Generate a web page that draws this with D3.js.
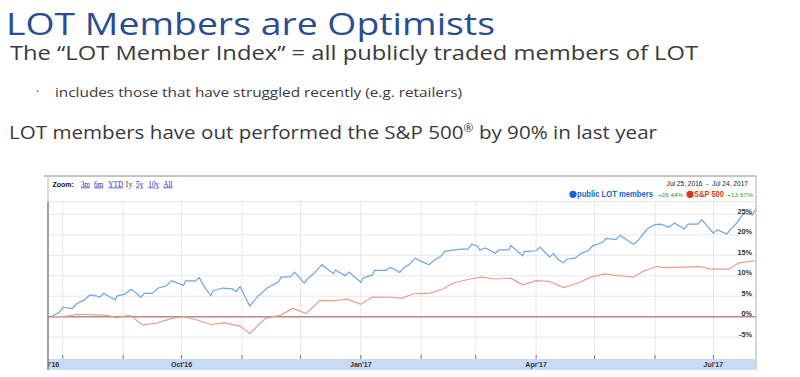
<!DOCTYPE html>
<html><head><meta charset="utf-8">
<script src="https://cdn.jsdelivr.net/npm/d3@7"></script>
<style>body{margin:0;background:#fff}svg{display:block}</style>
</head><body>
<svg id="c" width="800" height="377"></svg>
<script>
// ---------- data ----------
const titleText = "LOT Members are Optimists";
const line1Text = "The \u201cLOT Member Index\u201d = all publicly traded members of LOT";
const bulletText = "includes those that have struggled recently (e.g. retailers)";
const line3Main = "LOT members have out performed the S&P 500";
const line3Rest = " by 90% in last year";
const zoomLinks = ["3m","6m","YTD","1y","5y","10y","All"];
const rangeText = "Jul 25, 2016  -  Jul 24, 2017";
const seriesNames = ["public LOT members","S&P 500"];
const seriesChange = ["+26.44%","+13.67%"];
const yTicks = [-5,0,5,10,15,20,25];
const xTickDates = ["2016-07-01","2016-10-01","2017-01-01","2017-04-01","2017-07-01"];
const xTickLabels = ["Jul'16","Oct'16","Jan'17","Apr'17","Jul'17"];
const domainStart = "2016-07-25", domainEnd = "2017-07-24";

const lotDates = ["2016-07-26","2016-07-30","2016-08-01","2016-08-06","2016-08-08","2016-08-12","2016-08-15","2016-08-18","2016-08-20","2016-08-22","2016-08-24","2016-08-28","2016-08-29","2016-09-02","2016-09-05","2016-09-08","2016-09-10","2016-09-12","2016-09-16","2016-09-19","2016-09-23","2016-09-26","2016-09-29","2016-10-02","2016-10-03","2016-10-06","2016-10-08","2016-10-10","2016-10-13","2016-10-16","2016-10-17","2016-10-22","2016-10-27","2016-10-29","2016-10-31","2016-11-05","2016-11-09","2016-11-14","2016-11-20","2016-11-21","2016-11-26","2016-11-28","2016-12-03","2016-12-05","2016-12-08","2016-12-12","2016-12-18","2016-12-19","2016-12-24","2016-12-26","2017-01-01","2017-01-02","2017-01-07","2017-01-08","2017-01-14","2017-01-16","2017-01-19","2017-01-21","2017-01-23","2017-01-26","2017-01-29","2017-02-01","2017-02-05","2017-02-08","2017-02-11","2017-02-13","2017-02-16","2017-02-22","2017-02-25","2017-02-27","2017-03-02","2017-03-03","2017-03-06","2017-03-11","2017-03-13","2017-03-18","2017-03-19","2017-03-25","2017-03-26","2017-04-01","2017-04-03","2017-04-06","2017-04-08","2017-04-10","2017-04-12","2017-04-15","2017-04-17","2017-04-21","2017-04-24","2017-04-28","2017-04-30","2017-05-05","2017-05-07","2017-05-12","2017-05-14","2017-05-18","2017-05-21","2017-05-23","2017-05-28","2017-06-01","2017-06-04","2017-06-08","2017-06-11","2017-06-16","2017-06-18","2017-06-23","2017-06-25","2017-07-01","2017-07-03","2017-07-08","2017-07-10","2017-07-13","2017-07-16","2017-07-17","2017-07-21","2017-07-23"];
const lotValues = [0,1.0,2.3,2.0,3.1,4.1,5.3,5.1,4.75,5.7,5.1,4.1,5.1,5.5,6.7,5.7,4.7,5.7,5.7,7.0,7.5,8.8,8.2,7.6,8.75,8.75,8.7,9.6,7.1,5.1,6.3,7.0,6.8,6.1,7.35,2.6,4.9,7.0,8.6,9.65,9.8,10.9,8.2,9.4,10.6,12.7,10.5,11.4,10.0,10.9,8.4,9.4,10.2,11.3,11.3,12.0,11.4,10.8,11.9,12.8,14.3,13.5,12.7,13.9,14.7,15.9,16.2,16.5,16.5,17.7,17.2,16.3,16.8,15.5,16.3,16.3,17.4,14.9,15.9,16.1,17.0,15.5,14.6,15.4,14.1,13.2,14.1,14.3,15.4,16.2,17.3,18.1,19.1,18.8,19.9,18.6,17.7,18.4,21.4,22.5,22.6,21.8,22.9,21.4,22.6,22.6,23.7,20.4,21.2,20.2,21.4,22.9,24.9,25.2,24.9,26.44];

const spDates = ["2016-07-26","2016-08-01","2016-08-06","2016-08-08","2016-08-23","2016-08-29","2016-09-02","2016-09-05","2016-09-11","2016-09-18","2016-09-26","2016-10-02","2016-10-09","2016-10-16","2016-10-23","2016-10-31","2016-11-05","2016-11-13","2016-11-21","2016-11-27","2016-12-04","2016-12-11","2016-12-19","2016-12-25","2017-01-01","2017-01-07","2017-01-16","2017-01-22","2017-01-28","2017-02-05","2017-02-12","2017-02-18","2017-02-26","2017-03-04","2017-03-11","2017-03-19","2017-03-25","2017-04-01","2017-04-08","2017-04-15","2017-04-23","2017-04-29","2017-05-06","2017-05-14","2017-05-21","2017-05-26","2017-06-02","2017-06-06","2017-06-16","2017-06-24","2017-06-30","2017-07-09","2017-07-14","2017-07-23"];
const spValues = [0,0,0.3,0.6,0.4,-0.3,0.2,0.2,-2.0,-1.6,-0.4,0,-0.8,-1.9,-1.5,-2.3,-4.1,-0.4,0.4,2.0,0.75,4.0,3.9,4.3,3.0,4.8,4.75,4.5,5.6,5.7,6.7,8.3,9.2,9.65,9.2,9.4,7.8,8.8,8.6,7.1,8.3,9.65,10.45,10.0,9.65,11.1,12.25,12.0,12.1,12.25,11.6,11.6,13.15,13.67];

// ---------- layout ----------
const svg = d3.select("#c");
const parse = d3.utcParse("%Y-%m-%d");
const fit = (sel, w) => sel.attr("textLength", w).attr("lengthAdjust", "spacingAndGlyphs");

// slide text
fit(svg.append("text").attr("x", 6).attr("y", 34.5).attr("font-family", "Open Sans")
  .attr("font-size", 31).attr("fill", "#2b4d8f").text(titleText), 489);
fit(svg.append("text").attr("x", 10).attr("y", 59.5).attr("font-family", "Open Sans")
  .attr("font-size", 20).attr("fill", "#3a3a3a").text(line1Text), 688);
svg.append("text").attr("x", 36).attr("y", 96).attr("font-family", "Open Sans")
  .attr("font-size", 12).attr("fill", "#444").text("\u00b7");
fit(svg.append("text").attr("x", 55).attr("y", 96.7).attr("font-family", "Open Sans")
  .attr("font-size", 13.5).attr("fill", "#3a3a3a").text(bulletText), 407);
const l3 = svg.append("text").attr("x", 9).attr("y", 138.5).attr("font-family", "Open Sans")
  .attr("font-size", 19).attr("fill", "#3a3a3a");
l3.append("tspan").text(line3Main);
l3.append("tspan").attr("font-size", 11).attr("dy", -7).text("\u00ae");
l3.append("tspan").attr("dy", 7).text(line3Rest);
fit(l3, 648);

// chart frame
const L = 48, R = 755.5, T = 176, PT = 201.7, PB = 359, B = 370;
svg.append("line").attr("x1", 44).attr("x2", R + 1).attr("y1", T).attr("y2", T)
  .attr("stroke", "#c4c4c4").attr("stroke-width", 2);
svg.append("line").attr("x1", R + 0.5).attr("x2", R + 0.5).attr("y1", T).attr("y2", B)
  .attr("stroke", "#c8c8c8").attr("stroke-width", 1.5);

const x = d3.scaleUtc().domain([parse(domainStart), parse(domainEnd)]).range([49.1, 758.2]);
const y = d3.scaleLinear().domain([-10.33, 28.08]).range([PB, PT]);

svg.append("defs").append("clipPath").attr("id", "plot")
  .append("rect").attr("x", L).attr("y", PT - 2).attr("width", R - L).attr("height", B - PT + 2);

const g = svg.append("g").attr("clip-path", "url(#plot)");

// grid
g.append("line").attr("x1", L).attr("x2", R).attr("y1", PT).attr("y2", PT).attr("stroke", "#e2e2ea");
g.selectAll(".hg").data(yTicks).join("line").attr("x1", L).attr("x2", R)
  .attr("y1", d => y(d)).attr("y2", d => y(d)).attr("stroke", "#e6e6ee");
const months = d3.utcMonth.range(parse("2016-08-01"), parse("2017-07-02"));
g.selectAll(".vg").data(months).join("line").attr("x1", d => x(d)).attr("x2", d => x(d))
  .attr("y1", PT).attr("y2", PB).attr("stroke", "#e6e6ee");

// zero line
g.append("line").attr("x1", L).attr("x2", R).attr("y1", y(0)).attr("y2", y(0))
  .attr("stroke", "#b8898b").attr("stroke-width", 1.6);

// series
const line = d3.line().x(d => x(d[0])).y(d => y(d[1]));
g.append("path").datum(spDates.map((d, i) => [parse(d), spValues[i]]))
  .attr("d", line).attr("fill", "none").attr("stroke", "#e89d8a").attr("stroke-width", 1.2);
g.append("path").datum(lotDates.map((d, i) => [parse(d), lotValues[i]]))
  .attr("d", line).attr("fill", "none").attr("stroke", "#72a3e2").attr("stroke-width", 1.2);

// x-axis band
g.append("rect").attr("x", L).attr("y", PB).attr("width", R - L).attr("height", B - PB).attr("fill", "#c7dbf4");
g.selectAll(".tk").data(months).join("line").attr("x1", d => x(d)).attr("x2", d => x(d))
  .attr("y1", PB - 4).attr("y2", PB).attr("stroke", "#777").attr("stroke-width", 1);
g.selectAll(".xl").data(xTickDates).join("text")
  .attr("x", d => Math.max(x(parse(d)), L + 1.5)).attr("y", 367.3)
  .attr("text-anchor", "middle").attr("font-family", "Liberation Sans").attr("font-weight", "bold")
  .attr("font-size", 7).attr("fill", "#333").text((d, i) => xTickLabels[i]);

// y labels
svg.selectAll(".yl").data(yTicks).join("text").attr("x", 752).attr("y", d => y(d) - 0.5)
  .attr("text-anchor", "end").attr("font-family", "Liberation Sans").attr("font-weight", "bold")
  .attr("font-size", 7.3).attr("fill", "#333").text(d => d + "%");

// left border
svg.append("line").attr("x1", L).attr("x2", L).attr("y1", T).attr("y2", PT)
  .attr("stroke", "#d0d0d0").attr("stroke-width", 1.5);
svg.append("line").attr("x1", L).attr("x2", L).attr("y1", PT).attr("y2", B)
  .attr("stroke", "#808080").attr("stroke-width", 1.5);

// zoom links
svg.append("text").attr("x", 52.5).attr("y", 186.5).attr("font-family", "Liberation Sans")
  .attr("font-weight", "bold").attr("font-size", 7).attr("fill", "#111").text("Zoom:");
const zx = [80.7, 94, 108.3, 125, 136, 148.3, 163.3];
svg.selectAll(".zl").data(zoomLinks).join("text").attr("x", (d, i) => zx[i]).attr("y", 186.5)
  .attr("font-family", "Liberation Serif").attr("font-size", 7.3)
  .attr("fill", d => d === "1y" ? "#222" : "#2a2acc")
  .attr("text-decoration", d => d === "1y" ? "none" : "underline").text(d => d);

// range text
svg.append("text").attr("x", 748).attr("y", 186).attr("text-anchor", "end")
  .attr("font-family", "Liberation Sans").attr("font-size", 6.6).attr("fill", "#222")
  .attr("xml:space", "preserve").text(rangeText);

// legend
const colors = ["#1763d6", "#dd3a16"];
const leg = [{dot: 573, name: 577, nameW: 76, chg: 658, chgW: 25},
             {dot: 690, name: 694, nameW: 30, chg: 727, chgW: 26}];
seriesNames.forEach((n, i) => {
  const p = leg[i];
  svg.append("circle").attr("cx", p.dot).attr("cy", 194.3).attr("r", 3.6).attr("fill", colors[i]);
  fit(svg.append("text").attr("x", p.name).attr("y", 197.3).attr("font-family", "Liberation Sans")
    .attr("font-weight", "bold").attr("font-size", 8.3).attr("fill", colors[i]).text(n), p.nameW);
  fit(svg.append("text").attr("x", p.chg).attr("y", 197.3).attr("font-family", "Liberation Sans")
    .attr("font-size", 6.2).attr("fill", "#2e9a2e").text(seriesChange[i]), p.chgW);
});
</script>
</body></html>
